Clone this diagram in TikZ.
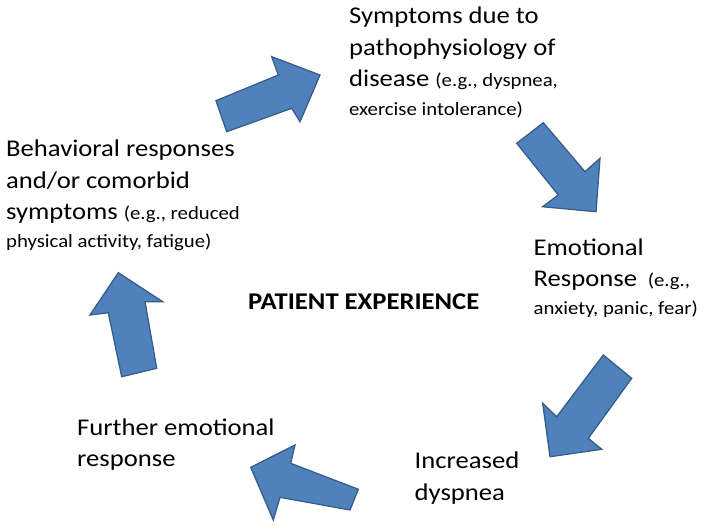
\documentclass[tikz,border=0pt]{standalone}
\usepackage{fontspec}
\setmainfont{Carlito}[FakeStretch=1.11]
\definecolor{arrfill}{HTML}{4F81BD}
\definecolor{arrline}{HTML}{385D8A}
\newcommand{\sm}[1]{{\fontsize{18.7}{22}\selectfont #1}}
\begin{document}
\begin{tikzpicture}[x=1pt,y=-1pt,
  bigarrow/.style={fill=arrfill,draw=arrline,line width=1.3pt,line join=miter},
  lbl/.style={anchor=base west,inner sep=0pt,align=left,font=\fontsize{24}{31.5}\selectfont}]
\useasboundingbox (0,0) rectangle (704,530);
% arrows
\draw[bigarrow] (216,100.7) -- (278.3,75) -- (271.7,56.7) -- (320,75) -- (300,121.7) -- (291.7,108.3) -- (226.7,131.7) -- cycle;
\draw[bigarrow] (516.7,143.3) -- (543.3,122.7) -- (585,171.7) -- (600,158.3) -- (596,211.7) -- (542.7,206.7) -- (558.3,195) -- cycle;
\draw[bigarrow] (603.3,355) -- (631.7,378.3) -- (588.3,438.3) -- (601.7,449.3) -- (550,456.7) -- (542.7,403.3) -- (556.7,416.7) -- cycle;
\draw[bigarrow] (358.3,489.3) -- (350,510) -- (280,497.3) -- (273.3,520) -- (250.7,467.3) -- (295,445) -- (290.7,463.3) -- cycle;
\draw[bigarrow] (121.7,376.7) -- (156.7,368.3) -- (145,301.7) -- (162.7,301.7) -- (118.3,272.7) -- (90,315) -- (108.3,312.7) -- cycle;
% texts (anchored at the baseline of their last line)
\node[lbl] (sym) at (349,115) {Symptoms due to\\pathophysiology of\\disease \sm{(e.g., dyspnea,}\\[-3pt]\sm{exercise intolerance)}};
\node[lbl] (emo) at (533.5,314) {Emotional\\Response \sm{ (e.g.,}\\[-4pt]\sm{anxiety, panic, fear)}};
\node[lbl] (inc) at (414.5,500) {Increased\\dyspnea};
\node[lbl] (fur) at (77,466.5) {Further emotional\\response};
\node[lbl] (beh) at (6,247) {Behavioral responses\\and/or comorbid\\symptoms \sm{(e.g., reduced}\\[-4pt]\sm{physical activity, fatigue)}};
\node[lbl,font=\fontsize{24}{31.5}\selectfont\bfseries] (pe) at (248,309) {PATIENT EXPERIENCE};
\end{tikzpicture}
\end{document}
